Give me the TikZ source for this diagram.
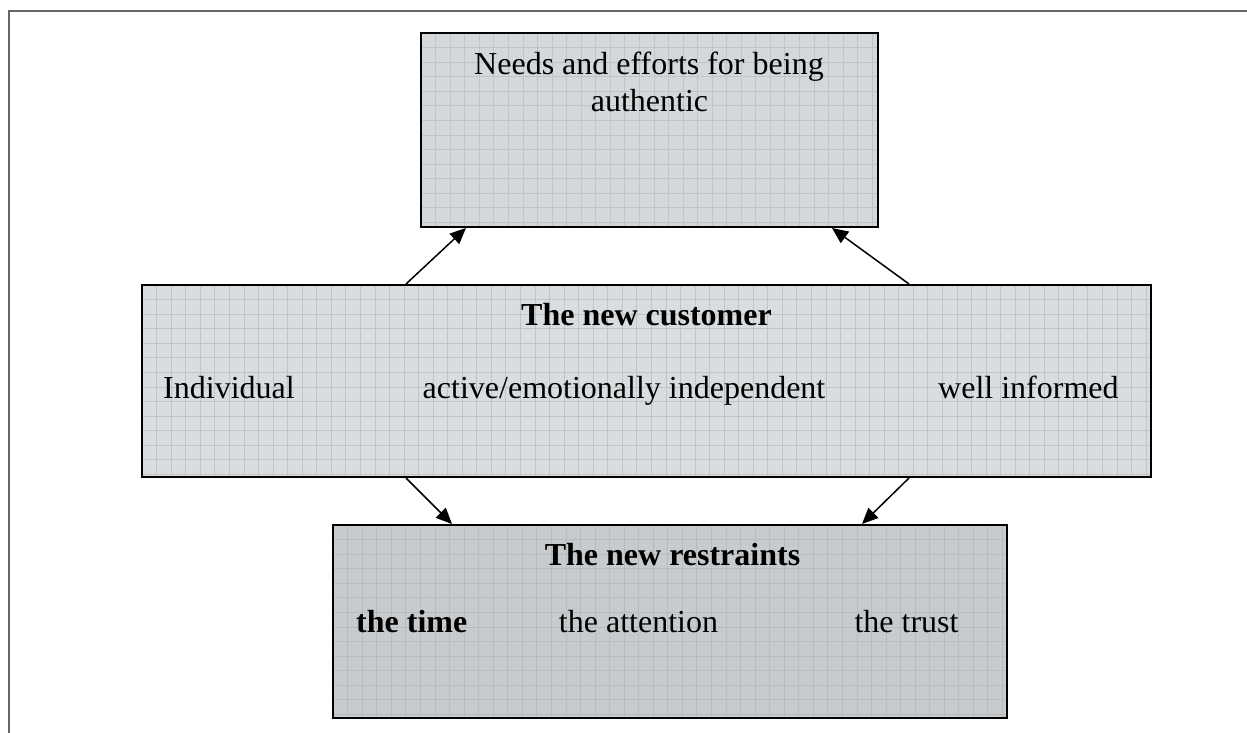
\documentclass[tikz,border=0pt]{standalone}
\usepackage{fontspec}
\setmainfont{Liberation Serif}
\usetikzlibrary{arrows.meta}
\definecolor{fillA}{HTML}{D5D8DA}
\definecolor{fillB}{HTML}{DADDDF}
\definecolor{fillC}{HTML}{C8CBCD}
\definecolor{gridA}{HTML}{C0C4C7}
\definecolor{gridC}{HTML}{B8BCBF}
\definecolor{framecol}{HTML}{666666}
\tikzset{
  gbox/.style 2 args={draw=black, line width=2pt, fill=#1, inner sep=0pt,
    path picture={
      \foreach \i in {1,...,70}
        \draw[#2, line width=0.6pt]
          ([xshift=\i*14.55pt]path picture bounding box.north west) --
          ([xshift=\i*14.55pt]path picture bounding box.south west);
      \foreach \j in {1,...,14}
        \draw[#2, line width=0.6pt]
          ([yshift=-\j*14.55pt]path picture bounding box.north west) --
          ([yshift=-\j*14.55pt]path picture bounding box.north east);
    }},
  lbl/.style={anchor=base, inner sep=0pt, font=\fontsize{32pt}{37pt}\selectfont},
  blbl/.style={lbl, font=\fontsize{32pt}{37pt}\selectfont\bfseries},
  arr/.style={line width=1.5pt, -{Triangle[length=16pt,width=14pt]}},
}
\begin{document}
\begin{tikzpicture}[x=1pt,y=-1pt]
\fill[white] (0,0) rectangle (1247,733);
\useasboundingbox (0,0) rectangle (1247,733);
\draw[framecol, line width=2pt] (9,733) -- (9,11) -- (1247,11);

\node[gbox={fillA}{gridA}, minimum width=457pt, minimum height=194pt] (top) at (649.5,130) {};
\node[gbox={fillB}{gridA}, minimum width=1009pt, minimum height=192pt] (mid) at (646.5,381) {};
\node[gbox={fillC}{gridC}, minimum width=674pt, minimum height=193pt] (bot) at (670,621.5) {};

\node[lbl] (t1) at (649,75) {Needs and efforts for being};
\node[lbl] (t2) at (649.5,112) {authentic};

\node[blbl] (m0) at (646.5,325) {The new customer};
\node[lbl, anchor=base west] (m1) at (163,398) {Individual};
\node[lbl] (m2) at (624,398) {active/emotionally independent};
\node[lbl, anchor=base west] (m3) at (938,398) {well informed};

\node[blbl] (b0) at (672.5,565) {The new restraints};
\node[blbl, anchor=base west] (b1) at (356,632) {the time};
\node[lbl] (b2) at (638.5,632) {the attention};
\node[lbl] (b3) at (906.5,632) {the trust};

\draw[arr] ([xshift=265pt]mid.north west) -- ([xshift=46pt]top.south west);
\draw[arr] ([xshift=768pt]mid.north west) -- ([xshift=412pt]top.south west);
\draw[arr] ([xshift=265pt]mid.south west) -- ([xshift=120pt]bot.north west);
\draw[arr] ([xshift=768pt]mid.south west) -- ([xshift=530pt]bot.north west);
\end{tikzpicture}
\end{document}
